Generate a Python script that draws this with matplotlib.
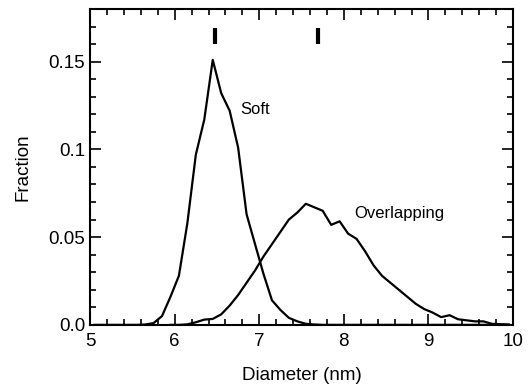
import matplotlib
matplotlib.use('Agg')
import matplotlib.pyplot as plt
import numpy as np
from matplotlib.ticker import MultipleLocator, FixedLocator

plt.rcParams['font.family'] = ['Liberation Sans', 'DejaVu Sans']

# Diameter bins (nm)
soft_d = [5.05, 5.15, 5.25, 5.35, 5.45, 5.55, 5.65, 5.75, 5.85, 5.95,
          6.05, 6.15, 6.25, 6.35, 6.45, 6.55, 6.65, 6.75, 6.85, 6.95,
          7.05, 7.15, 7.25, 7.35, 7.45, 7.55, 7.65, 7.75, 7.85, 7.95,
          8.05, 8.15, 8.25, 8.35, 8.45, 8.55, 8.65, 8.75, 8.85, 8.95,
          9.05, 9.15, 9.25, 9.35, 9.45, 9.55, 9.65, 9.75, 9.85, 9.95]
soft_f = [0, 0, 0, 0, 0, 0, 0.0002, 0.001, 0.005, 0.016,
          0.028, 0.058, 0.097, 0.117, 0.151, 0.132, 0.122, 0.101, 0.063, 0.046,
          0.029, 0.014, 0.0085, 0.004, 0.002, 0.0006, 0.0002, 0, 0, 0,
          0, 0, 0, 0, 0, 0, 0, 0, 0, 0,
          0, 0, 0, 0, 0, 0, 0, 0, 0, 0]

over_d = [5.95, 6.05, 6.15, 6.25, 6.35, 6.45, 6.55, 6.65, 6.75, 6.85, 6.95,
          7.05, 7.15, 7.25, 7.35, 7.45, 7.55, 7.65, 7.75, 7.85, 7.95,
          8.05, 8.15, 8.25, 8.35, 8.45, 8.55, 8.65, 8.75, 8.85, 8.95,
          9.05, 9.15, 9.25, 9.35, 9.45, 9.55, 9.65, 9.75, 9.85, 9.95]
over_f = [0, 0, 0.0003, 0.0015, 0.003, 0.0034, 0.006, 0.011, 0.017, 0.024, 0.031,
          0.039, 0.046, 0.053, 0.060, 0.064, 0.069, 0.067, 0.065, 0.057, 0.059,
          0.052, 0.049, 0.042, 0.034, 0.028, 0.024, 0.020, 0.016, 0.012, 0.009,
          0.007, 0.0044, 0.0055, 0.0032, 0.0026, 0.002, 0.002, 0.0006, 0.0004, 0.0002]

# mean diameter markers
marker_d = [6.48, 7.70]
marker_lo = 0.160
marker_hi = 0.169

fig = plt.figure(figsize=(5.3, 3.9), dpi=100)
ax = fig.add_axes([0.170, 0.167, 0.798, 0.810])

ax.plot(soft_d, soft_f, color='black', linewidth=1.6)
ax.plot(over_d, over_f, color='black', linewidth=1.6)
ax.vlines(marker_d, marker_lo, marker_hi, color='black', linewidth=3)

ax.text(6.78, 0.123, 'Soft', fontsize=12, va='center', ha='left')
ax.text(8.12, 0.0636, 'Overlapping', fontsize=12, va='center', ha='left')

ax.set_xlim(5, 10)
ax.set_ylim(0, 0.18)
ax.xaxis.set_major_locator(MultipleLocator(1))
ax.xaxis.set_minor_locator(MultipleLocator(0.2))
ax.yaxis.set_major_locator(FixedLocator([0, 0.05, 0.1, 0.15]))
ax.yaxis.set_minor_locator(MultipleLocator(0.01))
ax.set_yticklabels(['0.0', '0.05', '0.1', '0.15'])

for s in ax.spines.values():
    s.set_linewidth(1.5)
ax.tick_params(which='both', direction='in', top=True, right=True, width=1.2, labelsize=13.5)
ax.tick_params(which='major', length=8)
ax.tick_params(which='minor', length=4)
ax.tick_params(axis='x', pad=6)

ax.set_xlabel('Diameter (nm)', fontsize=13.5, labelpad=12)
ax.set_ylabel('Fraction', fontsize=13.5, labelpad=12)

fig.savefig('out.png', dpi=100)
